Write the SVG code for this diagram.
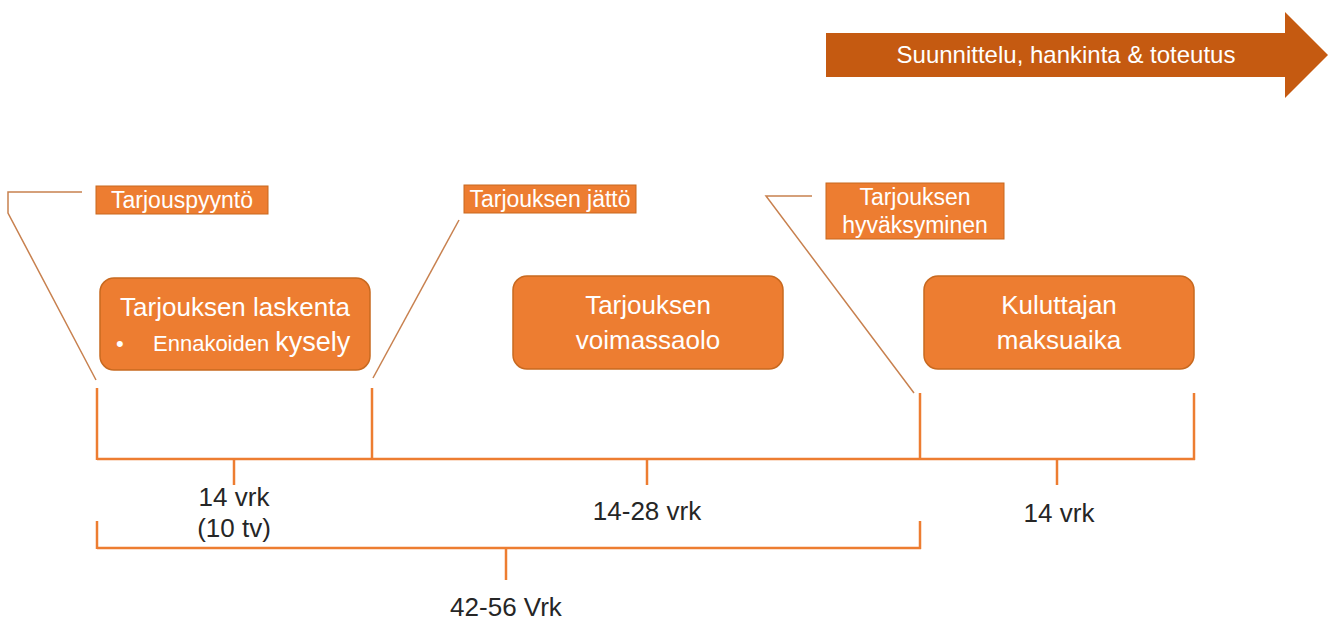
<svg xmlns="http://www.w3.org/2000/svg" width="1331" height="621" viewBox="0 0 1331 621">
<style>
.box{fill:#ED7D31;stroke:#C8691F;stroke-width:1.5}
.tag{fill:#ED7D31;stroke:#C8691F;stroke-width:1}
.wt{fill:#FFFFFF;font-family:"Liberation Sans",Arial,sans-serif;text-anchor:middle}
.dk{fill:#262626;font-family:"Liberation Sans",Arial,sans-serif;font-size:26px;text-anchor:middle}
.tl{stroke:#ED7D31;stroke-width:2.5;fill:none}
.co{stroke:#C8814F;stroke-width:1.5;fill:none}
</style>
<rect width="1331" height="621" fill="#FFFFFF"/>
<g id="phase-arrow">
<polygon points="826,33 1285,33 1285,12 1328,55 1285,98 1285,77 826,77" fill="#C55A11"/>
<text class="wt" x="1066" y="63" font-size="24">Suunnittelu, hankinta &amp; toteutus</text>
</g>
<g id="connectors">
<polyline class="co" points="82,192 8,192 8,213 96,380"/>
<line class="co" x1="459" y1="220" x2="373" y2="378"/>
<polyline class="co" points="812,196 766,196 914,393"/>
<line class="tl" x1="97" y1="459" x2="1195" y2="459"/>
<line class="tl" x1="97" y1="388" x2="97" y2="460"/>
<line class="tl" x1="372" y1="388" x2="372" y2="460"/>
<line class="tl" x1="920" y1="393" x2="920" y2="460"/>
<line class="tl" x1="1194" y1="393" x2="1194" y2="460"/>
<line class="tl" x1="234" y1="459" x2="234" y2="485"/>
<line class="tl" x1="647" y1="459" x2="647" y2="485"/>
<line class="tl" x1="1057" y1="459" x2="1057" y2="485"/>
<line class="tl" x1="97" y1="548" x2="921" y2="548"/>
<line class="tl" x1="97" y1="521" x2="97" y2="549"/>
<line class="tl" x1="920" y1="521" x2="920" y2="549"/>
<line class="tl" x1="506" y1="548" x2="506" y2="580"/>
</g>
<g id="tag-tarjouspyynto">
<rect class="tag" x="96" y="186" width="172" height="28"/>
<text class="wt" x="182" y="208" font-size="23">Tarjouspyyntö</text>
</g>
<g id="tag-jatto">
<rect class="tag" x="464" y="185" width="172" height="28"/>
<text class="wt" x="550" y="207" font-size="23">Tarjouksen jättö</text>
</g>
<g id="tag-hyvaksyminen">
<rect class="tag" x="826" y="183" width="178" height="56"/>
<text class="wt" x="915" y="205" font-size="23">Tarjouksen</text>
<text class="wt" x="915" y="233" font-size="23">hyväksyminen</text>
</g>
<g id="box-laskenta">
<rect class="box" x="100" y="278" width="270" height="92" rx="14"/>
<text class="wt" x="235" y="316" font-size="26">Tarjouksen laskenta</text>
<text x="116" y="351" fill="#FFFFFF" font-family="Liberation Sans,Arial,sans-serif" font-size="22">•</text>
<text x="153" y="351" fill="#FFFFFF" font-family="Liberation Sans,Arial,sans-serif" font-size="22">Ennakoiden <tspan font-size="27">kysely</tspan></text>
</g>
<g id="box-voimassaolo">
<rect class="box" x="513" y="276" width="270" height="93" rx="14"/>
<text class="wt" x="648" y="314" font-size="26">Tarjouksen</text>
<text class="wt" x="648" y="349" font-size="26">voimassaolo</text>
</g>
<g id="box-maksuaika">
<rect class="box" x="924" y="276" width="270" height="93" rx="14"/>
<text class="wt" x="1059" y="314" font-size="26">Kuluttajan</text>
<text class="wt" x="1059" y="349" font-size="26">maksuaika</text>
</g>
<g id="labels">
<text class="dk" x="234" y="506">14 vrk</text>
<text class="dk" x="234" y="537">(10 tv)</text>
<text class="dk" x="647" y="520">14-28 vrk</text>
<text class="dk" x="1059" y="522">14 vrk</text>
<text class="dk" x="506" y="616">42-56 Vrk</text>
</g>
</svg>
